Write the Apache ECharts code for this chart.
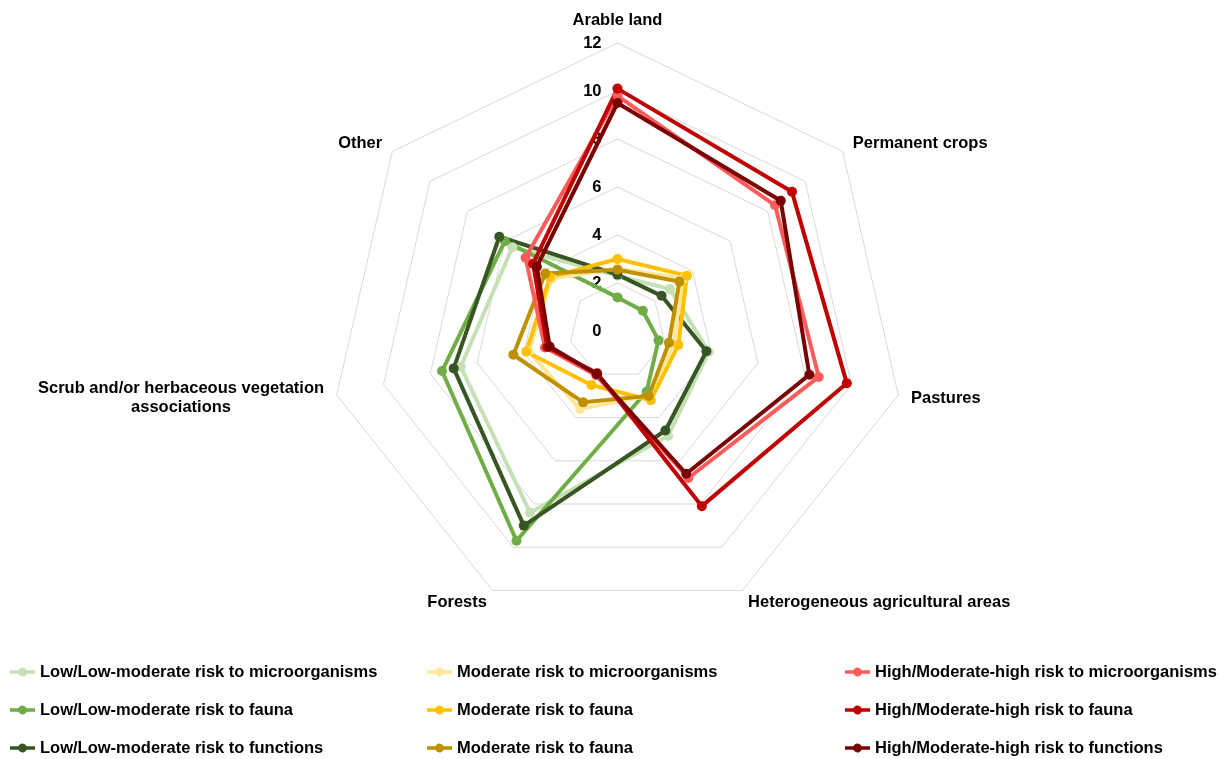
<!DOCTYPE html>
<html>
<head>
<meta charset="utf-8">
<script src="https://cdn.jsdelivr.net/npm/echarts@6/dist/echarts.min.js"></script>
<style>
  html, body { margin: 0; padding: 0; background: #fff; }
  #chart { width: 1219px; height: 759px; }
</style>
</head>
<body>
<div id="chart"></div>
<script>
// Land-cover categories, listed clockwise from the top
const categories = [
  'Arable land',
  'Permanent crops',
  'Pastures',
  'Heterogeneous agricultural areas',
  'Forests',
  'Scrub and/or herbaceous vegetation associations',
  'Other'
];

// Radial scale
const axisMin = 0;
const axisMax = 12;
const axisStep = 2;

// Values per category (same order as categories)
const lowMicro      = [2.3, 2.8, 3.9, 4.85, 8.4, 6.7, 5.6];
const lowFauna      = [1.4, 1.35, 1.75, 2.8, 9.7, 7.5, 6.0];
const lowFunctions  = [2.35, 2.35, 3.8, 4.6, 9.0, 7.0, 6.3];
const modMicro      = [2.6, 3.5, 2.4, 3.0, 3.6, 3.8, 3.5];
const modFauna      = [3.0, 3.7, 2.6, 3.2, 2.5, 3.9, 3.6];
const modFauna2     = [2.55, 3.3, 2.2, 3.0, 3.3, 4.45, 3.85];
const highMicro     = [9.8, 8.4, 8.6, 6.8, 2.05, 3.1, 4.9];
const highFauna     = [10.1, 9.3, 9.8, 8.1, 1.95, 3.0, 4.5];
const highFunctions = [9.5, 8.7, 8.2, 6.6, 2.0, 2.9, 4.3];

const seriesNames = [
  'Low/Low-moderate risk to microorganisms',
  'Low/Low-moderate risk to fauna',
  'Low/Low-moderate risk to functions',
  'Moderate risk to microorganisms',
  'Moderate risk to fauna',
  'Moderate risk to fauna ',
  'High/Moderate-high risk to microorganisms',
  'High/Moderate-high risk to fauna',
  'High/Moderate-high risk to functions'
];
const seriesValues = [lowMicro, lowFauna, lowFunctions, modMicro, modFauna, modFauna2, highMicro, highFauna, highFunctions];
const seriesColors = ['#C5E0B4', '#70AD47', '#375623', '#FFE699', '#FFC000', '#BF9000', '#FF5B5B', '#C00000', '#7B0000'];

// ECharts lays indicators out counter-clockwise; reorder so they run clockwise
const order = [0, 6, 5, 4, 3, 2, 1];
const reorder = arr => order.map(i => arr[i]);

const FONT = 'Arial, "Liberation Sans", sans-serif';
const boldText = { color: '#000', fontWeight: 'bold', fontSize: 16.5, fontFamily: FONT };

// Legend icon: a short thick line with a dot in the middle
const lineDotIcon = 'path://M0,4 L9.42,4 A5,5 0 0 1 18.58,4 L28,4 L28,8 L18.58,8 A5,5 0 0 1 9.42,8 L0,8 Z';

const indicator = reorder(categories).map((name, i) => {
  const ind = { name: name, min: axisMin, max: axisMax };
  if (i === 0) {
    ind.axisLabel = Object.assign({ show: true, showMinLabel: true, showMaxLabel: true, margin: 16 }, boldText);
  }
  return ind;
});

function legendColumn(names, left) {
  return {
    orient: 'vertical',
    left: left,
    top: 663,
    height: 96,
    padding: 0,
    itemWidth: 25,
    itemHeight: 11,
    itemGap: 20,
    icon: lineDotIcon,
    textStyle: Object.assign({ lineHeight: 18 }, boldText),
    data: names
  };
}

const option = {
  backgroundColor: '#fff',
  animation: false,
  legend: [
    legendColumn(seriesNames.slice(0, 3), 10),
    legendColumn(seriesNames.slice(3, 6), 427),
    legendColumn(seriesNames.slice(6, 9), 845)
  ],
  radar: {
    center: [617.5, 331],
    radius: 288,
    startAngle: 90,
    shape: 'polygon',
    splitNumber: (axisMax - axisMin) / axisStep,
    nameGap: 13,
    axisName: Object.assign({
      formatter: function (name) {
        if (name.indexOf('Scrub') === 0) {
          return '{c|Scrub and/or herbaceous vegetation}\n{c|associations}';
        }
        return name;
      },
      lineHeight: 19,
      rich: {
        c: Object.assign({ align: 'center', lineHeight: 19 }, boldText)
      }
    }, boldText),
    splitLine: { lineStyle: { color: '#D9D9D9', width: 1 } },
    splitArea: { show: false },
    axisLine: { show: false },
    axisTick: { show: false },
    axisLabel: { show: false },
    indicator: indicator
  },
  series: seriesNames.map((name, i) => ({
    type: 'radar',
    name: name,
    symbol: 'circle',
    symbolSize: 10,
    itemStyle: { color: seriesColors[i] },
    lineStyle: { color: seriesColors[i], width: 4 },
    data: [{ name: name, value: reorder(seriesValues[i]) }]
  }))
};

const chart = echarts.init(document.getElementById('chart'), null, { renderer: 'canvas' });
chart.setOption(option);
</script>
</body>
</html>
